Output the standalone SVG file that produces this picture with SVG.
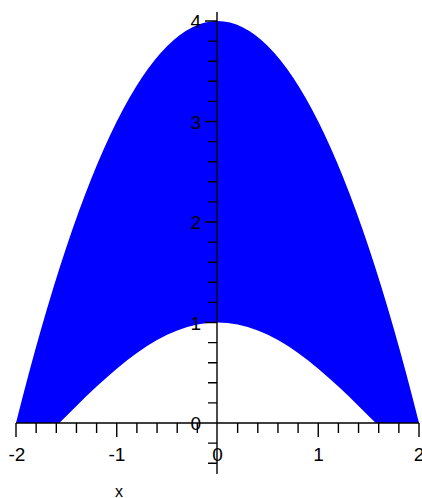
<svg xmlns="http://www.w3.org/2000/svg" width="422" height="498" viewBox="0 0 422 498">
<style>
.ax{stroke:#000;stroke-width:1.4;fill:none}
.lbl{font-family:"Liberation Sans",Arial,sans-serif;font-size:19px;fill:#000}
.xl{text-anchor:middle}
.yl{text-anchor:end}
</style>
<rect width="422" height="498" fill="#fff"/>
<g id="region">
<path fill="#0000ff" d="M16,423 Q217.5,-381 419,423 L375.8,423 L368.6,415.9 L358.55,405.9 L348.5,396.1 L338.4,386.6 L328.3,377.4 L318.25,368.7 L308.2,360.5 L298.1,353.0 L288.0,346.1 L277.95,340.05 L267.9,334.8 L257.8,330.4 L247.7,327.0 L237.65,324.5 L227.6,323.0 L217.5,322.5 L207.4,323.0 L197.35,324.5 L187.3,327.0 L177.2,330.4 L167.1,334.8 L157.05,340.05 L147.0,346.1 L136.9,353.0 L126.8,360.5 L116.75,368.7 L106.7,377.4 L96.6,386.6 L86.5,396.1 L76.45,405.9 L66.4,415.9 L59.2,423 Z"/>
</g>
<g id="x-axis">
<path class="ax" d="M16,423 H419
M16,423 V437 M116.75,423 V437 M318.25,423 V437 M419,423 V437
M36.15,423 V433 M56.3,423 V433 M76.45,423 V433 M96.6,423 V433
M136.9,423 V433 M157.05,423 V433 M177.2,423 V433 M197.35,423 V433
M237.65,423 V433 M257.8,423 V433 M277.95,423 V433 M298.1,423 V433
M338.4,423 V433 M358.55,423 V433 M378.7,423 V433 M398.85,423 V433"/>
<text class="lbl xl" x="17" y="461">-2</text>
<text class="lbl xl" x="117" y="461">-1</text>
<text class="lbl xl" x="217.5" y="461">0</text>
<text class="lbl xl" x="318.5" y="461">1</text>
<text class="lbl xl" x="419" y="461">2</text>
<text class="lbl xl" x="119" y="497" style="font-size:16px">x</text>
</g>
<g id="y-axis">
<path class="ax" d="M217,12 V474
M205,322.5 H217 M205,222 H217 M205,121.5 H217 M205,21 H217
M208,463.2 H217 M208,443.1 H217
M208,402.9 H217 M208,382.8 H217 M208,362.7 H217 M208,342.6 H217
M208,302.4 H217 M208,282.3 H217 M208,262.2 H217 M208,242.1 H217
M208,201.9 H217 M208,181.8 H217 M208,161.7 H217 M208,141.6 H217
M208,101.4 H217 M208,81.3 H217 M208,61.2 H217 M208,41.1 H217"/>
<text class="lbl yl" x="201" y="430">0</text>
<text class="lbl yl" x="201" y="329.5">1</text>
<text class="lbl yl" x="201" y="229">2</text>
<text class="lbl yl" x="201" y="128.5">3</text>
<text class="lbl yl" x="201" y="28">4</text>
</g>
</svg>
